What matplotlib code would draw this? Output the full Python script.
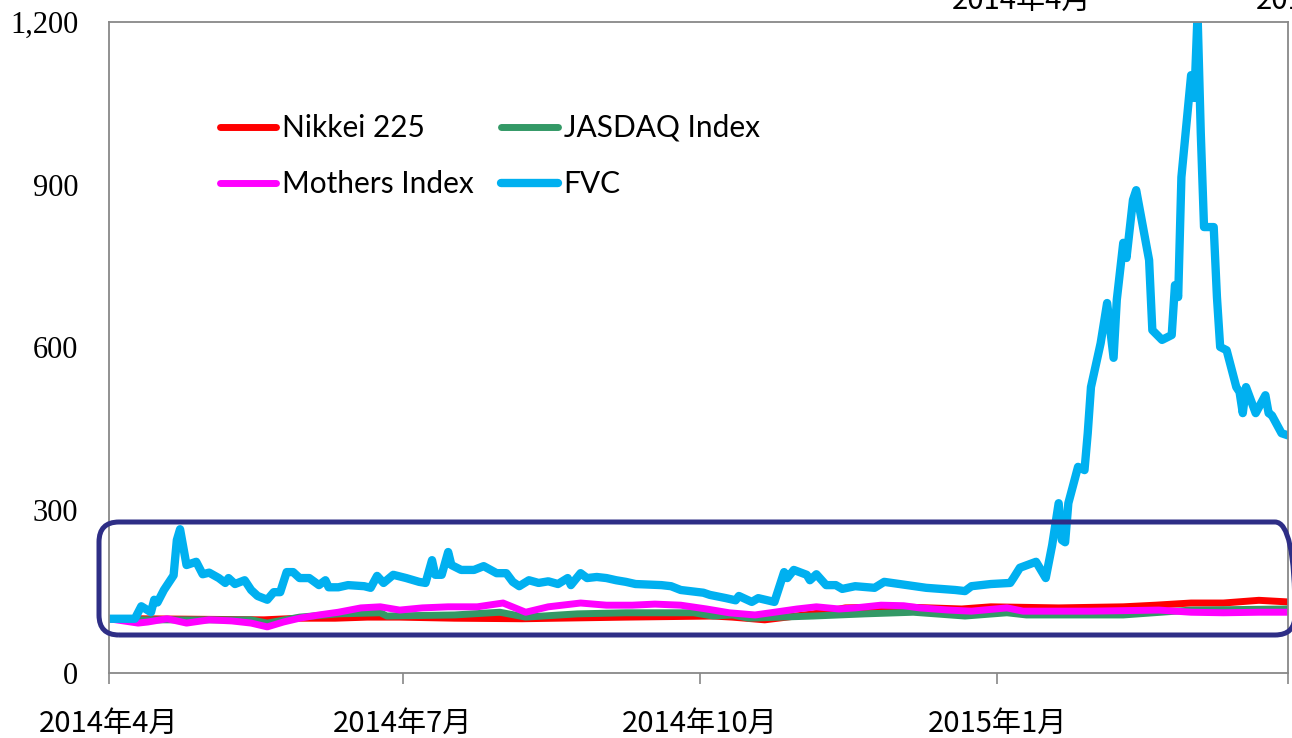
import matplotlib
matplotlib.use("Agg")
import matplotlib.pyplot as plt
import pandas as pd
from matplotlib.patches import FancyBboxPatch
from matplotlib.transforms import IdentityTransform

plt.rcParams['font.family'] = ['Noto Sans CJK JP', 'DejaVu Sans']

# FVC
fvc_dates = ["2014-04-01", "2014-04-09", "2014-04-11", "2014-04-14", "2014-04-15", "2014-04-16",
             "2014-04-18", "2014-04-21", "2014-04-22", "2014-04-23", "2014-04-25", "2014-04-28",
             "2014-04-30", "2014-05-02", "2014-05-05", "2014-05-07", "2014-05-08", "2014-05-10",
             "2014-05-13", "2014-05-15", "2014-05-17", "2014-05-20", "2014-05-22", "2014-05-24",
             "2014-05-26", "2014-05-28", "2014-05-30", "2014-06-02", "2014-06-05", "2014-06-07",
             "2014-06-08", "2014-06-11", "2014-06-14", "2014-06-19", "2014-06-21", "2014-06-23",
             "2014-06-25", "2014-06-28", "2014-07-02", "2014-07-06", "2014-07-08", "2014-07-10",
             "2014-07-11", "2014-07-13", "2014-07-15", "2014-07-16", "2014-07-19", "2014-07-23",
             "2014-07-26", "2014-07-30", "2014-08-02", "2014-08-04", "2014-08-06", "2014-08-09",
             "2014-08-12", "2014-08-15", "2014-08-18", "2014-08-21", "2014-08-22", "2014-08-25",
             "2014-08-27", "2014-08-30", "2014-09-02", "2014-09-05", "2014-09-08", "2014-09-11",
             "2014-09-19", "2014-09-22", "2014-09-25", "2014-10-02", "2014-10-04", "2014-10-09",
             "2014-10-12", "2014-10-13", "2014-10-17", "2014-10-19", "2014-10-24", "2014-10-27",
             "2014-10-28", "2014-10-30", "2014-11-03", "2014-11-04", "2014-11-06", "2014-11-09",
             "2014-11-12", "2014-11-14", "2014-11-18", "2014-11-24", "2014-11-27", "2014-12-04",
             "2014-12-10", "2014-12-19", "2014-12-22", "2014-12-24", "2014-12-30", "2015-01-05",
             "2015-01-06", "2015-01-08", "2015-01-13", "2015-01-16", "2015-01-18", "2015-01-20",
             "2015-01-21", "2015-01-22", "2015-01-23", "2015-01-26", "2015-01-28", "2015-01-29",
             "2015-01-30", "2015-02-02", "2015-02-04", "2015-02-06", "2015-02-07", "2015-02-09",
             "2015-02-10", "2015-02-12", "2015-02-13", "2015-02-17", "2015-02-18", "2015-02-21",
             "2015-02-24", "2015-02-25", "2015-02-26", "2015-02-27", "2015-03-02", "2015-03-03",
             "2015-03-04", "2015-03-05", "2015-03-06", "2015-03-09", "2015-03-10", "2015-03-11",
             "2015-03-13", "2015-03-16", "2015-03-17", "2015-03-18", "2015-03-19", "2015-03-22",
             "2015-03-25", "2015-03-26", "2015-03-27", "2015-03-30", "2015-04-01"]
fvc = [100, 100, 123, 112, 135, 130,
       153, 180, 245, 265, 199, 205,
       182, 185, 175, 166, 175, 164,
       171, 153, 142, 135, 149, 149,
       186, 186, 175, 175, 162, 171,
       158, 158, 162, 160, 157, 179,
       166, 181, 175, 168, 166, 208,
       181, 181, 223, 199, 190, 190,
       197, 184, 184, 168, 160, 171,
       166, 169, 164, 175, 162, 184,
       175, 177, 175, 171, 168, 164,
       162, 160, 153, 148, 144, 138,
       134, 142, 131, 138, 131, 186,
       175, 190, 181, 171, 182, 162,
       162, 155, 160, 157, 168, 162,
       157, 153, 151, 160, 164, 166,
       175, 194, 205, 175, 236, 313,
       245, 241, 313, 380, 374, 442,
       527, 608, 682, 581, 688, 793,
       765, 872, 890, 761, 632, 614,
       623, 715, 693, 914, 1102, 1060,
       1215, 995, 822, 822, 693, 601,
       595, 527, 518, 479, 527, 479,
       512, 479, 475, 442, 438]

# Mothers Index
mothers_dates = ["2014-04-01", "2014-04-10", "2014-04-13", "2014-04-19", "2014-04-25", "2014-05-02",
                 "2014-05-09", "2014-05-15", "2014-05-20", "2014-05-25", "2014-05-30", "2014-06-05",
                 "2014-06-11", "2014-06-18", "2014-06-24", "2014-06-30", "2014-07-07", "2014-07-15",
                 "2014-07-24", "2014-08-01", "2014-08-08", "2014-08-15", "2014-08-25", "2014-09-02",
                 "2014-09-10", "2014-09-17", "2014-09-25", "2014-10-03", "2014-10-10", "2014-10-18",
                 "2014-10-24", "2014-10-31", "2014-11-06", "2014-11-13", "2014-11-18", "2014-11-26",
                 "2014-12-03", "2014-12-08", "2014-12-17", "2014-12-24", "2015-01-04", "2015-01-09",
                 "2015-01-30", "2015-02-20", "2015-03-02", "2015-03-12", "2015-03-23", "2015-04-01"]
mothers = [100, 92, 94, 100, 92, 98,
           96, 92, 85, 94, 101, 107,
           112, 120, 122, 116, 120, 122,
           122, 129, 112, 122, 129, 125,
           125, 127, 125, 118, 111, 107,
           112, 118, 122, 118, 120, 125,
           124, 120, 116, 114, 120, 114,
           114, 116, 112, 111, 112, 112]

# JASDAQ Index
jasdaq_dates = ["2014-04-01", "2014-04-10", "2014-05-15", "2014-05-20", "2014-05-30", "2014-06-11",
                "2014-06-24", "2014-06-26", "2014-07-17", "2014-07-31", "2014-08-08", "2014-08-24",
                "2014-09-08", "2014-09-29", "2014-10-05", "2014-10-11", "2014-10-16", "2014-10-26",
                "2014-11-05", "2014-11-21", "2014-12-06", "2014-12-22", "2015-01-04", "2015-01-10",
                "2015-02-09", "2015-03-02", "2015-04-01"]
jasdaq = [100, 98, 98, 92, 103, 109,
          111, 105, 107, 112, 103, 109,
          111, 111, 105, 107, 101, 103,
          105, 109, 112, 105, 111, 107,
          107, 116, 118]

# Nikkei 225
nikkei_dates = ["2014-04-01", "2014-04-10", "2014-05-19", "2014-05-30", "2014-06-10", "2014-06-20",
                "2014-06-30", "2014-07-17", "2014-08-07", "2014-09-08", "2014-10-05", "2014-10-11",
                "2014-10-21", "2014-11-05", "2014-11-15", "2014-12-01", "2014-12-21", "2014-12-30",
                "2015-01-20", "2015-02-09", "2015-02-19", "2015-03-02", "2015-03-12", "2015-03-23",
                "2015-04-01"]
nikkei = [100, 100, 98, 101, 101, 103,
          103, 101, 100, 103, 105, 103,
          98, 109, 120, 122, 118, 122,
          120, 122, 125, 129, 129, 134,
          131]

xtick_dates = ["2014-04-01", "2014-07-01", "2014-10-01", "2015-01-01", "2015-04-01"]
xtick_labels = ["2014年4月", "2014年7月", "2014年10月", "2015年1月", ""]
yticks = [0, 300, 600, 900, 1200]
ytick_labels = ["0", "300", "600", "900", "1,200"]

fig = plt.figure(figsize=(12.92, 7.38), dpi=100)
ax = fig.add_axes([109 / 1292, 65 / 738, 1179 / 1292, 651 / 738])

l1, = ax.plot(pd.to_datetime(nikkei_dates), nikkei, color='#FF0000', lw=5, label='Nikkei 225', solid_capstyle='round')
l2, = ax.plot(pd.to_datetime(jasdaq_dates), jasdaq, color='#339966', lw=5, label='JASDAQ Index', solid_capstyle='round')
l3, = ax.plot(pd.to_datetime(mothers_dates), mothers, color='#FF00FF', lw=5, label='Mothers Index', solid_capstyle='round')
l4, = ax.plot(pd.to_datetime(fvc_dates), fvc, color='#00B0F0', lw=6, label='FVC', solid_capstyle='round')

ax.set_xlim(pd.Timestamp("2014-04-01"), pd.Timestamp("2015-04-01"))
ax.set_ylim(0, 1200)
ax.set_xticks(pd.to_datetime(xtick_dates))
ax.set_xticklabels(xtick_labels, fontsize=21)
ax.set_yticks(yticks)
ax.set_yticklabels(ytick_labels, fontsize=22, family='Liberation Serif')
ax.tick_params(axis='x', direction='out', length=8, width=1.2, color='#888888', pad=18)
ax.tick_params(axis='y', length=0, pad=22)
for s in ax.spines.values():
    s.set_color('#888888')
    s.set_linewidth(1.3)

ax.legend(handles=[l1, l3, l2, l4], ncol=2, frameon=False,
          loc='upper left', bbox_to_anchor=(0.071, 0.9),
          prop={'family': 'Lato', 'size': 21.5},
          handlelength=1.9, handletextpad=0.2, columnspacing=0.9, labelspacing=0.95)

# rounded highlight box (pixels)
box = FancyBboxPatch((99, 103), 1196, 113, boxstyle="round,pad=0,rounding_size=20",
                     transform=IdentityTransform(), fill=False, edgecolor='#2E2E86',
                     linewidth=3.6, clip_on=False, zorder=5)
fig.patches.append(box)

# clipped labels from chart above
fig.text(1022 / 1292, 0.999, "2014年4月", ha='center', va='center', fontsize=21)
fig.text(1256 / 1292, 0.999, "2014年7月", ha='left', va='center', fontsize=21)

fig.savefig("out.png", dpi=100)
